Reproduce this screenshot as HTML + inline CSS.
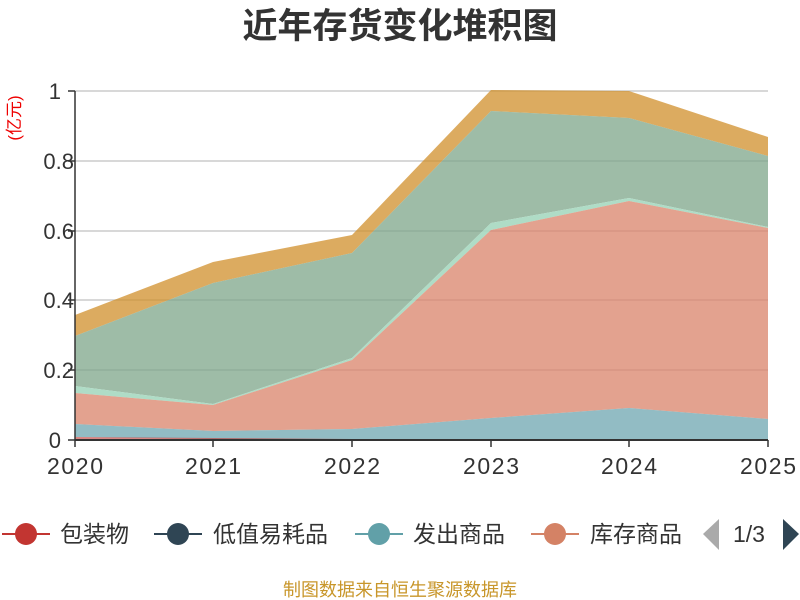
<!DOCTYPE html>
<html><head><meta charset="utf-8"><style>
html,body{margin:0;padding:0;background:#fff;}
svg{display:block;font-family:"Liberation Sans","Noto Sans CJK SC",sans-serif;}
</style></head><body>
<svg width="800" height="600" viewBox="0 0 800 600" xmlns="http://www.w3.org/2000/svg">
<rect width="800" height="600" fill="#fff"/>
<text x="400" y="38" text-anchor="middle" font-size="35" font-weight="bold" fill="#333">近年存货变化堆积图</text>
<text transform="translate(20,118) rotate(-90)" text-anchor="middle" font-size="17" fill="#e00">(亿元)</text>
<g stroke="#ccc" stroke-width="1.5">
<line x1="75" y1="91" x2="768" y2="91"/>
<line x1="75" y1="161" x2="768" y2="161"/>
<line x1="75" y1="231" x2="768" y2="231"/>
<line x1="75" y1="300" x2="768" y2="300"/>
<line x1="75" y1="370" x2="768" y2="370"/>
</g>
<polygon fill="#d08f2b" fill-opacity="0.75" points="75,315 213,262 352,235 491,90 629,91 768,137 768,156 629,118 491,111 352,253 213,283 75,336"/>
<polygon fill="#7ea58a" fill-opacity="0.75" points="75,336 213,283 352,253 491,111 629,118 768,156 768,227 629,198 491,223 352,358 213,404 75,386"/>
<polygon fill="#a6d8c0" fill-opacity="0.9" points="75,386 213,404 352,358 491,223 629,198 768,227 768,228 629,201 491,230 352,360 213,405 75,393"/>
<polygon fill="#d9836a" fill-opacity="0.75" points="75,393 213,405 352,360 491,230 629,201 768,228 768,419 629,408 491,418 352,429 213,431 75,424"/>
<polygon fill="#6ea6b0" fill-opacity="0.75" points="75,424 213,431 352,429 491,418 629,408 768,419 768,439 629,439 491,439 352,439 213,439 75,437"/>
<polygon fill="#c23531" fill-opacity="0.6" points="75,437 213,438 352,439 768,439 768,440 75,440"/>
<line x1="75" y1="91" x2="75" y2="440" stroke="#333" stroke-width="1.5"/>
<line x1="75" y1="440" x2="768" y2="440" stroke="#333" stroke-width="2"/>
<g stroke="#333" stroke-width="1.5">
<line x1="68" y1="91" x2="75" y2="91"/><line x1="68" y1="161" x2="75" y2="161"/><line x1="68" y1="231" x2="75" y2="231"/><line x1="68" y1="300" x2="75" y2="300"/><line x1="68" y1="370" x2="75" y2="370"/><line x1="68" y1="440" x2="75" y2="440"/>
<line x1="75" y1="440" x2="75" y2="447"/><line x1="213" y1="440" x2="213" y2="447"/><line x1="352" y1="440" x2="352" y2="447"/><line x1="491" y1="440" x2="491" y2="447"/><line x1="629" y1="440" x2="629" y2="447"/><line x1="768" y1="440" x2="768" y2="447"/>
</g>
<g font-size="22" fill="#333" text-anchor="end">
<text x="61" y="99">1</text><text x="74" y="169">0.8</text><text x="74" y="239">0.6</text><text x="74" y="308">0.4</text><text x="74" y="378">0.2</text><text x="61" y="448">0</text>
</g>
<g font-size="23" fill="#333" text-anchor="middle" textLength="56">
<text x="75" y="474" textLength="56">2020</text><text x="213" y="474" textLength="56">2021</text><text x="352" y="474" textLength="56">2022</text><text x="491" y="474" textLength="56">2023</text><text x="629" y="474" textLength="56">2024</text><text x="768" y="474" textLength="56">2025</text>
</g>
<g font-size="23" fill="#333">
<line x1="2" y1="534" x2="50" y2="534" stroke="#c23531" stroke-width="2"/><circle cx="26" cy="534" r="11" fill="#c23531"/>
<text x="60" y="542">包装物</text>
<line x1="154" y1="534" x2="202" y2="534" stroke="#2f4554" stroke-width="2"/><circle cx="178" cy="534" r="11" fill="#2f4554"/>
<text x="213" y="542">低值易耗品</text>
<line x1="355" y1="534" x2="403" y2="534" stroke="#61a0a8" stroke-width="2"/><circle cx="379" cy="534" r="11" fill="#61a0a8"/>
<text x="413" y="542">发出商品</text>
<line x1="531" y1="534" x2="579" y2="534" stroke="#d48265" stroke-width="2"/><circle cx="555" cy="534" r="11" fill="#d48265"/>
</g>
<svg x="590" y="510" width="93" height="40"><text x="0" y="32" font-size="23" fill="#333" font-family="Liberation Sans,Noto Sans CJK SC,sans-serif">库存商品</text></svg>
<polygon points="719,519 719,550 703,534" fill="#aaa"/>
<text x="733" y="542" font-size="23" fill="#333">1/3</text>
<polygon points="783,519 783,550 799,534" fill="#2f4554"/>
<text x="400" y="596" text-anchor="middle" font-size="18" fill="#c8962a">制图数据来自恒生聚源数据库</text>
</svg>
</body></html>
